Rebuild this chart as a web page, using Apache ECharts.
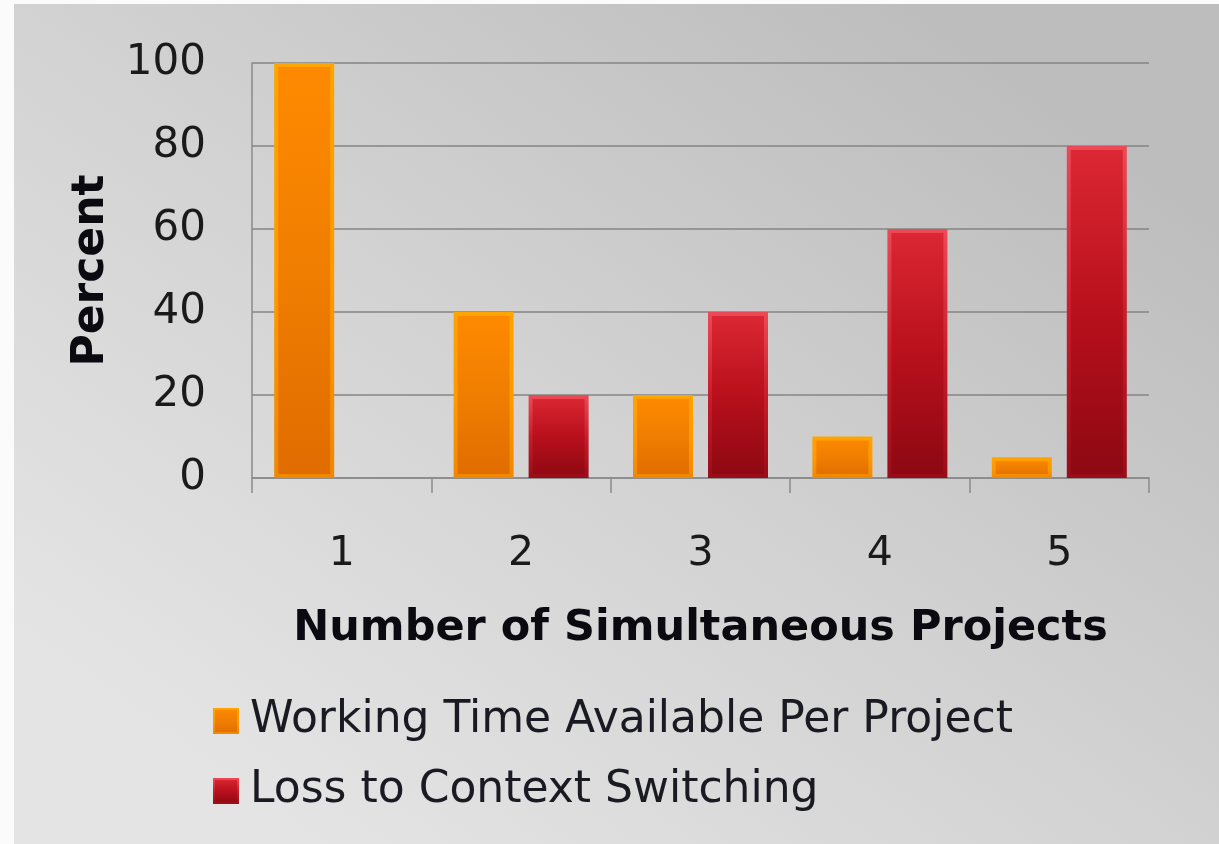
<!DOCTYPE html>
<html>
<head>
<meta charset="utf-8">
<script src="https://cdn.jsdelivr.net/npm/echarts@6/dist/echarts.min.js"></script>
<style>
  html, body { margin: 0; padding: 0; background: #fbfbfb; }
  #chart { position: absolute; left: 14px; top: 4px; width: 1205px; height: 840px; }
</style>
</head>
<body>
<div id="chart"></div>
<script>
// data
var projects = ['1', '2', '3', '4', '5'];
var workingTime = [100, 40, 20, 10, 5];
var contextLoss = [null, 20, 40, 60, 80];
var yTicks = { min: 0, max: 100, step: 20 };
var seriesNames = ['Working Time Available Per Project', 'Loss to Context Switching'];

var chart = echarts.init(document.getElementById('chart'));

function vgrad(top, mid, bottom) {
    return new echarts.graphic.LinearGradient(0, 0, 0, 1, [
        { offset: 0, color: top },
        { offset: 0.5, color: mid },
        { offset: 1, color: bottom }
    ]);
}

var font = 'DejaVu Sans';

var option = {
    backgroundColor: new echarts.graphic.LinearGradient(0.75, 0, 0.25, 1, [
        { offset: 0, color: '#bdbdbd' },
        { offset: 0.5, color: '#d2d2d2' },
        { offset: 1, color: '#e4e4e4' }
    ]),
    textStyle: { fontFamily: font },
    animation: false,
    grid: { left: 238, right: 70, top: 59, bottom: 366 },
    legend: {
        orient: 'vertical',
        left: 199,
        top: 692,
        padding: 0,
        itemWidth: 24,
        itemHeight: 24,
        itemGap: 20,
        icon: 'rect',
        textStyle: { fontSize: 44, lineHeight: 50, color: '#1a1a22', fontFamily: font, padding: [0, 0, 0, 7] },
        data: seriesNames
    },
    xAxis: {
        type: 'category',
        data: projects,
        name: 'Number of Simultaneous Projects',
        nameLocation: 'middle',
        nameGap: 129,
        nameTextStyle: { fontSize: 43, fontWeight: 'bold', color: '#0a0a10', fontFamily: font },
        axisLine: { lineStyle: { color: '#8a8a8a', width: 1.5 } },
        axisTick: { show: true, length: 15, lineStyle: { color: '#8a8a8a', width: 1.5 } },
        axisLabel: { fontSize: 41, color: '#1a1a1a', margin: 56 }
    },
    yAxis: {
        type: 'value',
        min: yTicks.min,
        max: yTicks.max,
        interval: yTicks.step,
        name: 'Percent',
        nameLocation: 'middle',
        nameRotate: 90,
        nameGap: 138,
        nameTextStyle: { fontSize: 44, fontWeight: 'bold', color: '#0a0a10', fontFamily: font },
        axisLine: { show: true, lineStyle: { color: '#8a8a8a', width: 1.5 } },
        axisTick: { show: false },
        axisLabel: { fontSize: 42, color: '#1a1a1a', margin: 46 },
        splitLine: { lineStyle: { color: '#858585', width: 1.5 } }
    },
    series: [
        {
            name: seriesNames[0],
            type: 'bar',
            data: workingTime,
            barWidth: 60,
            barGap: '25%',
            itemStyle: {
                color: vgrad('#ff8a00', '#f07e00', '#e06c00'),
                borderColor: vgrad('#ffa400', '#ff9a00', '#f08800'),
                borderWidth: 4
            }
        },
        {
            name: seriesNames[1],
            type: 'bar',
            data: contextLoss,
            barWidth: 60,
            itemStyle: {
                color: vgrad('#dc2834', '#b8101c', '#8c0812'),
                borderColor: vgrad('#ec4a56', '#c81e2a', '#9a0c18'),
                borderWidth: 4
            }
        }
    ]
};

chart.setOption(option);
window.addEventListener('resize', chart.resize);
</script>
</body>
</html>
